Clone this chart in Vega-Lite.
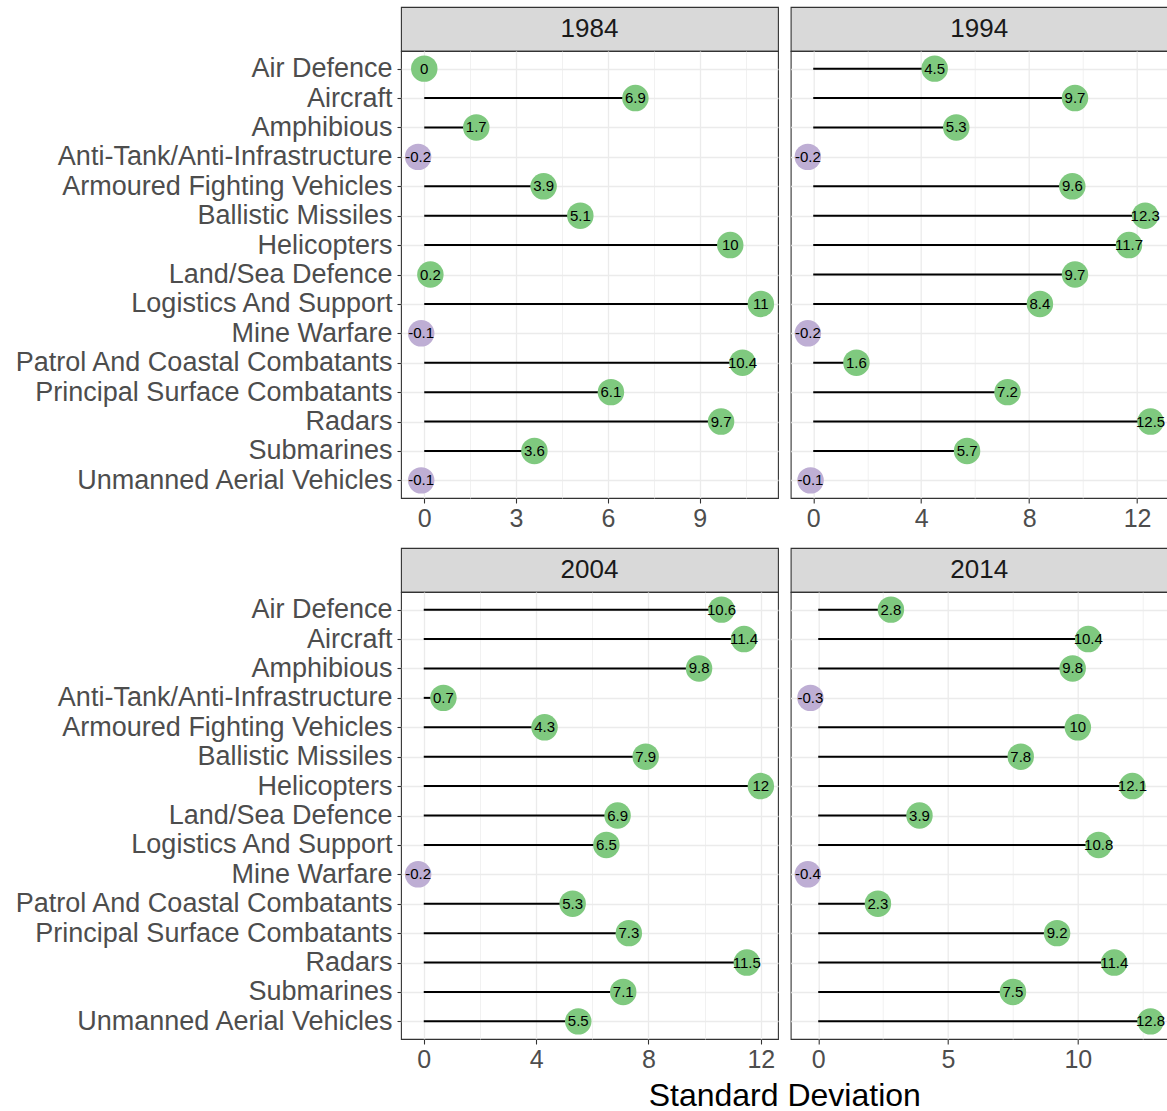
{
  "$schema": "https://vega.github.io/schema/vega-lite/v6.json",
  "background": "white",
  "padding": {"left": 13, "top": 6, "right": 0, "bottom": 5},
  "config": {
    "font": "Liberation Sans",
    "view": {"stroke": "#333333", "strokeWidth": 1.1}
  },
  "title": {"text": "Standard Deviation", "orient": "bottom", "anchor": "middle", "fontSize": 32, "fontWeight": "normal", "color": "#000000", "font": "Liberation Sans", "offset": 8, "dx": 194},
  "datasets": {
    "d": [
      {"year": "1984", "category": "Air Defence", "value": 0},
      {"year": "1984", "category": "Aircraft", "value": 6.9},
      {"year": "1984", "category": "Amphibious", "value": 1.7},
      {"year": "1984", "category": "Anti-Tank/Anti-Infrastructure", "value": -0.2},
      {"year": "1984", "category": "Armoured Fighting Vehicles", "value": 3.9},
      {"year": "1984", "category": "Ballistic Missiles", "value": 5.1},
      {"year": "1984", "category": "Helicopters", "value": 10},
      {"year": "1984", "category": "Land/Sea Defence", "value": 0.2},
      {"year": "1984", "category": "Logistics And Support", "value": 11},
      {"year": "1984", "category": "Mine Warfare", "value": -0.1},
      {"year": "1984", "category": "Patrol And Coastal Combatants", "value": 10.4},
      {"year": "1984", "category": "Principal Surface Combatants", "value": 6.1},
      {"year": "1984", "category": "Radars", "value": 9.7},
      {"year": "1984", "category": "Submarines", "value": 3.6},
      {"year": "1984", "category": "Unmanned Aerial Vehicles", "value": -0.1},
      {"year": "1994", "category": "Air Defence", "value": 4.5},
      {"year": "1994", "category": "Aircraft", "value": 9.7},
      {"year": "1994", "category": "Amphibious", "value": 5.3},
      {"year": "1994", "category": "Anti-Tank/Anti-Infrastructure", "value": -0.2},
      {"year": "1994", "category": "Armoured Fighting Vehicles", "value": 9.6},
      {"year": "1994", "category": "Ballistic Missiles", "value": 12.3},
      {"year": "1994", "category": "Helicopters", "value": 11.7},
      {"year": "1994", "category": "Land/Sea Defence", "value": 9.7},
      {"year": "1994", "category": "Logistics And Support", "value": 8.4},
      {"year": "1994", "category": "Mine Warfare", "value": -0.2},
      {"year": "1994", "category": "Patrol And Coastal Combatants", "value": 1.6},
      {"year": "1994", "category": "Principal Surface Combatants", "value": 7.2},
      {"year": "1994", "category": "Radars", "value": 12.5},
      {"year": "1994", "category": "Submarines", "value": 5.7},
      {"year": "1994", "category": "Unmanned Aerial Vehicles", "value": -0.1},
      {"year": "2004", "category": "Air Defence", "value": 10.6},
      {"year": "2004", "category": "Aircraft", "value": 11.4},
      {"year": "2004", "category": "Amphibious", "value": 9.8},
      {"year": "2004", "category": "Anti-Tank/Anti-Infrastructure", "value": 0.7},
      {"year": "2004", "category": "Armoured Fighting Vehicles", "value": 4.3},
      {"year": "2004", "category": "Ballistic Missiles", "value": 7.9},
      {"year": "2004", "category": "Helicopters", "value": 12},
      {"year": "2004", "category": "Land/Sea Defence", "value": 6.9},
      {"year": "2004", "category": "Logistics And Support", "value": 6.5},
      {"year": "2004", "category": "Mine Warfare", "value": -0.2},
      {"year": "2004", "category": "Patrol And Coastal Combatants", "value": 5.3},
      {"year": "2004", "category": "Principal Surface Combatants", "value": 7.3},
      {"year": "2004", "category": "Radars", "value": 11.5},
      {"year": "2004", "category": "Submarines", "value": 7.1},
      {"year": "2004", "category": "Unmanned Aerial Vehicles", "value": 5.5},
      {"year": "2014", "category": "Air Defence", "value": 2.8},
      {"year": "2014", "category": "Aircraft", "value": 10.4},
      {"year": "2014", "category": "Amphibious", "value": 9.8},
      {"year": "2014", "category": "Anti-Tank/Anti-Infrastructure", "value": -0.3},
      {"year": "2014", "category": "Armoured Fighting Vehicles", "value": 10},
      {"year": "2014", "category": "Ballistic Missiles", "value": 7.8},
      {"year": "2014", "category": "Helicopters", "value": 12.1},
      {"year": "2014", "category": "Land/Sea Defence", "value": 3.9},
      {"year": "2014", "category": "Logistics And Support", "value": 10.8},
      {"year": "2014", "category": "Mine Warfare", "value": -0.4},
      {"year": "2014", "category": "Patrol And Coastal Combatants", "value": 2.3},
      {"year": "2014", "category": "Principal Surface Combatants", "value": 9.2},
      {"year": "2014", "category": "Radars", "value": 11.4},
      {"year": "2014", "category": "Submarines", "value": 7.5},
      {"year": "2014", "category": "Unmanned Aerial Vehicles", "value": 12.8}
    ]
  },
  "bounds": "flush",
  "columns": 2,
  "spacing": {"row": 0, "column": 12.7},
  "resolve": {"scale": {"x": "independent", "y": "independent"}},
  "concat": [
    {
      "width": 377, "height": 44,
      "data": {"values": [{"year": "1984"}]},
      "mark": {"type": "text", "fontSize": 26, "color": "#1A1A1A", "baseline": "middle", "align": "center"},
      "encoding": {"x": {"field": "year", "type": "nominal", "axis": null}, "y": {"field": "year", "type": "nominal", "axis": null}, "text": {"field": "year"}},
      "view": {"fill": "#D9D9D9", "stroke": "#333333", "strokeWidth": 1.1}
    },
    {
      "width": 377, "height": 44,
      "data": {"values": [{"year": "1994"}]},
      "mark": {"type": "text", "fontSize": 26, "color": "#1A1A1A", "baseline": "middle", "align": "center"},
      "encoding": {"x": {"field": "year", "type": "nominal", "axis": null}, "y": {"field": "year", "type": "nominal", "axis": null}, "text": {"field": "year"}},
      "view": {"fill": "#D9D9D9", "stroke": "#333333", "strokeWidth": 1.1}
    },
    {
      "width": 377, "height": 447,
      "data": {"name": "d"},
      "transform": [{"filter": "datum.year == '1984'"}],
      "encoding": {
        "y": {"field": "category", "type": "nominal",
          "scale": {"type": "point", "padding": 0.6, "domain": ["Air Defence","Aircraft","Amphibious","Anti-Tank/Anti-Infrastructure","Armoured Fighting Vehicles","Ballistic Missiles","Helicopters","Land/Sea Defence","Logistics And Support","Mine Warfare","Patrol And Coastal Combatants","Principal Surface Combatants","Radars","Submarines","Unmanned Aerial Vehicles"]},
          "axis": {"title": null, "domain": false, "ticks": true, "tickSize": 4, "tickColor": "#333333", "tickWidth": 1.1, "labelFontSize": 27, "labelLimit": 0, "labelColor": "#4D4D4D", "labelPadding": 5, "grid": true, "gridColor": "#EBEBEB", "gridWidth": 1.3}}
      },
      "layer": [
        {
          "mark": {"type": "rule", "color": "#000000", "strokeWidth": 2},
          "encoding": {
            "x": {"field": "value", "type": "quantitative",
              "scale": {"domain": [-0.76, 11.56], "nice": false, "zero": false},
              "axis": {"title": null, "domain": false, "values": [0, 1.5, 3, 4.5, 6, 7.5, 9, 10.5], "tickSize": 5, "tickWidth": 1.1, "tickColor": "#333333",
                "tickOpacity": {"condition": {"test": "datum.value % 3 !== 0", "value": 0}, "value": 1},
                "labelExpr": "datum.value % 3 === 0 ? datum.label : ''", "labelFontSize": 25, "labelColor": "#4D4D4D", "labelPadding": 3, "labelFlush": false, "labelOverlap": false, "labelBound": false,
                "grid": true, "gridColor": "#EBEBEB",
                "gridWidth": {"condition": {"test": "datum.value % 3 !== 0", "value": 0.7}, "value": 1.3}}},
            "x2": {"datum": 0}
          }
        },
        {
          "mark": {"type": "point", "filled": true, "opacity": 1, "size": 700},
          "encoding": {"x": {"field": "value", "type": "quantitative"},
            "color": {"condition": {"test": "datum.value < 0", "value": "#BEAED4"}, "value": "#7FC97F"}}
        },
        {
          "mark": {"type": "text", "fontSize": 15, "color": "#000000", "baseline": "middle", "align": "center"},
          "encoding": {"x": {"field": "value", "type": "quantitative"}, "text": {"field": "value", "type": "nominal"}}
        }
      ]
    },
    {
      "width": 377, "height": 447,
      "data": {"name": "d"},
      "transform": [{"filter": "datum.year == '1994'"}],
      "encoding": {
        "y": {"field": "category", "type": "nominal",
          "scale": {"type": "point", "padding": 0.6, "domain": ["Air Defence","Aircraft","Amphibious","Anti-Tank/Anti-Infrastructure","Armoured Fighting Vehicles","Ballistic Missiles","Helicopters","Land/Sea Defence","Logistics And Support","Mine Warfare","Patrol And Coastal Combatants","Principal Surface Combatants","Radars","Submarines","Unmanned Aerial Vehicles"]},
          "axis": {"title": null, "domain": false, "ticks": false, "labels": false, "grid": true, "gridColor": "#EBEBEB", "gridWidth": 1.3}}
      },
      "layer": [
        {
          "mark": {"type": "rule", "color": "#000000", "strokeWidth": 2},
          "encoding": {
            "x": {"field": "value", "type": "quantitative",
              "scale": {"domain": [-0.835, 13.135], "nice": false, "zero": false},
              "axis": {"title": null, "domain": false, "values": [0, 2, 4, 6, 8, 10, 12], "tickSize": 5, "tickWidth": 1.1, "tickColor": "#333333",
                "tickOpacity": {"condition": {"test": "datum.value % 4 !== 0", "value": 0}, "value": 1},
                "labelExpr": "datum.value % 4 === 0 ? datum.label : ''", "labelFontSize": 25, "labelColor": "#4D4D4D", "labelPadding": 3, "labelFlush": false, "labelOverlap": false, "labelBound": false,
                "grid": true, "gridColor": "#EBEBEB",
                "gridWidth": {"condition": {"test": "datum.value % 4 !== 0", "value": 0.7}, "value": 1.3}}},
            "x2": {"datum": 0}
          }
        },
        {
          "mark": {"type": "point", "filled": true, "opacity": 1, "size": 700},
          "encoding": {"x": {"field": "value", "type": "quantitative"},
            "color": {"condition": {"test": "datum.value < 0", "value": "#BEAED4"}, "value": "#7FC97F"}}
        },
        {
          "mark": {"type": "text", "fontSize": 15, "color": "#000000", "baseline": "middle", "align": "center"},
          "encoding": {"x": {"field": "value", "type": "quantitative"}, "text": {"field": "value", "type": "nominal"}}
        }
      ]
    },
    {
      "width": 377, "height": 50,
      "data": {"values": [{"year": "spacer"}]},
      "mark": {"type": "text", "text": ""},
      "view": {"stroke": null}
    },
    {
      "width": 377, "height": 50,
      "data": {"values": [{"year": "spacer"}]},
      "mark": {"type": "text", "text": ""},
      "view": {"stroke": null}
    },
    {
      "width": 377, "height": 44,
      "data": {"values": [{"year": "2004"}]},
      "mark": {"type": "text", "fontSize": 26, "color": "#1A1A1A", "baseline": "middle", "align": "center"},
      "encoding": {"x": {"field": "year", "type": "nominal", "axis": null}, "y": {"field": "year", "type": "nominal", "axis": null}, "text": {"field": "year"}},
      "view": {"fill": "#D9D9D9", "stroke": "#333333", "strokeWidth": 1.1}
    },
    {
      "width": 377, "height": 44,
      "data": {"values": [{"year": "2014"}]},
      "mark": {"type": "text", "fontSize": 26, "color": "#1A1A1A", "baseline": "middle", "align": "center"},
      "encoding": {"x": {"field": "year", "type": "nominal", "axis": null}, "y": {"field": "year", "type": "nominal", "axis": null}, "text": {"field": "year"}},
      "view": {"fill": "#D9D9D9", "stroke": "#333333", "strokeWidth": 1.1}
    },
    {
      "width": 377, "height": 447,
      "data": {"name": "d"},
      "transform": [{"filter": "datum.year == '2004'"}],
      "encoding": {
        "y": {"field": "category", "type": "nominal",
          "scale": {"type": "point", "padding": 0.6, "domain": ["Air Defence","Aircraft","Amphibious","Anti-Tank/Anti-Infrastructure","Armoured Fighting Vehicles","Ballistic Missiles","Helicopters","Land/Sea Defence","Logistics And Support","Mine Warfare","Patrol And Coastal Combatants","Principal Surface Combatants","Radars","Submarines","Unmanned Aerial Vehicles"]},
          "axis": {"title": null, "domain": false, "ticks": true, "tickSize": 4, "tickColor": "#333333", "tickWidth": 1.1, "labelFontSize": 27, "labelLimit": 0, "labelColor": "#4D4D4D", "labelPadding": 5, "grid": true, "gridColor": "#EBEBEB", "gridWidth": 1.3}}
      },
      "layer": [
        {
          "mark": {"type": "rule", "color": "#000000", "strokeWidth": 2},
          "encoding": {
            "x": {"field": "value", "type": "quantitative",
              "scale": {"domain": [-0.81, 12.61], "nice": false, "zero": false},
              "axis": {"title": null, "domain": false, "values": [0, 2, 4, 6, 8, 10, 12], "tickSize": 5, "tickWidth": 1.1, "tickColor": "#333333",
                "tickOpacity": {"condition": {"test": "datum.value % 4 !== 0", "value": 0}, "value": 1},
                "labelExpr": "datum.value % 4 === 0 ? datum.label : ''", "labelFontSize": 25, "labelColor": "#4D4D4D", "labelPadding": 3, "labelFlush": false, "labelOverlap": false, "labelBound": false,
                "grid": true, "gridColor": "#EBEBEB",
                "gridWidth": {"condition": {"test": "datum.value % 4 !== 0", "value": 0.7}, "value": 1.3}}},
            "x2": {"datum": 0}
          }
        },
        {
          "mark": {"type": "point", "filled": true, "opacity": 1, "size": 700},
          "encoding": {"x": {"field": "value", "type": "quantitative"},
            "color": {"condition": {"test": "datum.value < 0", "value": "#BEAED4"}, "value": "#7FC97F"}}
        },
        {
          "mark": {"type": "text", "fontSize": 15, "color": "#000000", "baseline": "middle", "align": "center"},
          "encoding": {"x": {"field": "value", "type": "quantitative"}, "text": {"field": "value", "type": "nominal"}}
        }
      ]
    },
    {
      "width": 377, "height": 447,
      "data": {"name": "d"},
      "transform": [{"filter": "datum.year == '2014'"}],
      "encoding": {
        "y": {"field": "category", "type": "nominal",
          "scale": {"type": "point", "padding": 0.6, "domain": ["Air Defence","Aircraft","Amphibious","Anti-Tank/Anti-Infrastructure","Armoured Fighting Vehicles","Ballistic Missiles","Helicopters","Land/Sea Defence","Logistics And Support","Mine Warfare","Patrol And Coastal Combatants","Principal Surface Combatants","Radars","Submarines","Unmanned Aerial Vehicles"]},
          "axis": {"title": null, "domain": false, "ticks": false, "labels": false, "grid": true, "gridColor": "#EBEBEB", "gridWidth": 1.3}}
      },
      "layer": [
        {
          "mark": {"type": "rule", "color": "#000000", "strokeWidth": 2},
          "encoding": {
            "x": {"field": "value", "type": "quantitative",
              "scale": {"domain": [-1.06, 13.46], "nice": false, "zero": false},
              "axis": {"title": null, "domain": false, "values": [0, 2.5, 5, 7.5, 10, 12.5], "tickSize": 5, "tickWidth": 1.1, "tickColor": "#333333",
                "tickOpacity": {"condition": {"test": "datum.value % 5 !== 0", "value": 0}, "value": 1},
                "labelExpr": "datum.value % 5 === 0 ? datum.label : ''", "labelFontSize": 25, "labelColor": "#4D4D4D", "labelPadding": 3, "labelFlush": false, "labelOverlap": false, "labelBound": false,
                "grid": true, "gridColor": "#EBEBEB",
                "gridWidth": {"condition": {"test": "datum.value % 5 !== 0", "value": 0.7}, "value": 1.3}}},
            "x2": {"datum": 0}
          }
        },
        {
          "mark": {"type": "point", "filled": true, "opacity": 1, "size": 700},
          "encoding": {"x": {"field": "value", "type": "quantitative"},
            "color": {"condition": {"test": "datum.value < 0", "value": "#BEAED4"}, "value": "#7FC97F"}}
        },
        {
          "mark": {"type": "text", "fontSize": 15, "color": "#000000", "baseline": "middle", "align": "center"},
          "encoding": {"x": {"field": "value", "type": "quantitative"}, "text": {"field": "value", "type": "nominal"}}
        }
      ]
    }
  ]
}
